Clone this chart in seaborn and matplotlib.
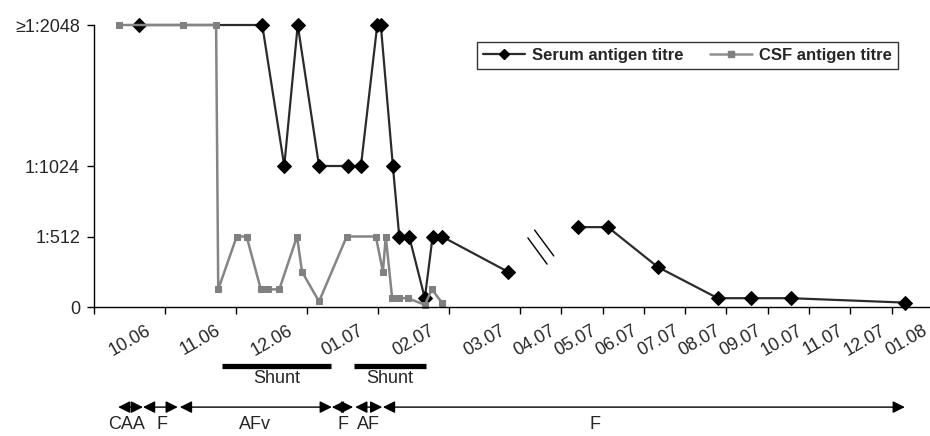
import numpy as np
import pandas as pd
import matplotlib
matplotlib.use('Agg')
import matplotlib.pyplot as plt
import seaborn as sns
from matplotlib.lines import Line2D

# months counted from the start of 10.06 (0 = beginning of Oct 2006)
month_labels = ['10.06', '11.06', '12.06', '01.07', '02.07', '03.07', '04.07', '05.07',
                '06.07', '07.07', '08.07', '09.07', '10.07', '11.07', '12.07', '01.08']

serum_month = [0.63, 2.37, 2.68, 2.87, 3.17, 3.58, 3.76, 3.99, 4.04, 4.21, 4.30, 4.44,
               4.66, 4.77, 4.90, 5.83, 7.40, 8.13, 9.34, 10.79, 11.59, 12.56, 15.32]
serum_titre = [2048, 2048, 1024, 2048, 1024, 1024, 1024, 2048, 2048, 1024, 512, 512,
               64, 512, 512, 256, 580, 580, 290, 64, 64, 64, 32]
serum_part = [1] * 16 + [2] * 7

csf_month = [0.35, 1.25, 1.72, 1.75, 2.01, 2.15, 2.35, 2.45, 2.61, 2.86, 2.93, 3.17,
             3.56, 3.97, 4.07, 4.11, 4.20, 4.30, 4.42, 4.66, 4.76, 4.90]
csf_titre = [2048, 2048, 2048, 128, 512, 512, 128, 128, 128, 512, 256, 40,
             512, 512, 256, 512, 64, 64, 64, 16, 128, 32]

ytick_vals = [0, 512, 1024, 2048]
ytick_labels = ['0', '1:512', '1:1024', '\u22651:2048']

shunt_start = [1.80, 3.66]
shunt_end = [3.34, 4.68]

phase_names = ['CAA', 'F', 'AFv', 'F', 'AF', 'F']
phase_start = [0.34, 0.69, 1.21, 3.35, 3.68, 4.07]
phase_end = [0.69, 1.18, 3.35, 3.65, 4.06, 15.32]
phase_label_at = [0.46, 0.96, 2.27, 3.51, 3.86, 7.82]

serum = pd.DataFrame({'month': serum_month, 'titre': serum_titre, 'part': serum_part})
csf = pd.DataFrame({'month': csf_month, 'titre': csf_titre})

sns.set_style('ticks')
plt.rcParams['font.family'] = ['Liberation Sans', 'DejaVu Sans']

fig = plt.figure(figsize=(9.3, 4.36), dpi=100)
ax = fig.add_axes([94 / 930, 129 / 436, 836 / 930, 282 / 436])

# axis is squeezed after the break (04.07 onwards)
k = 41.3 / 71


def fwd(m):
    m = np.asarray(m, dtype=float)
    return np.where(m <= 6, m, 6 + (m - 6) * k)


def inv(t):
    t = np.asarray(t, dtype=float)
    return np.where(t <= 6, t, 6 + (t - 6) / k)


ax.set_xscale('function', functions=(fwd, inv))

serum_style = dict(color='#2b2b2b', lw=1.6, marker='D', markersize=7,
                   markerfacecolor='black', markeredgecolor='black', clip_on=False)
csf_style = dict(color='#858585', lw=1.8, marker='s', markersize=4.5,
                 markerfacecolor='#808080', markeredgecolor='#808080', clip_on=False)

for part, d in serum.groupby('part'):
    sns.lineplot(data=d, x='month', y='titre', ax=ax, **serum_style)
sns.lineplot(data=csf, x='month', y='titre', ax=ax, **csf_style)

ax.set_xlim(0, 15.93)
ax.set_ylim(0, 2048)
ax.set_xlabel('')
ax.set_ylabel('')

# labels sit in the middle of each month, a bit to the left after the break
label_pos = [m + 0.5 if m < 6 else m + 0.35 for m in range(16)]
ax.set_xticks(np.arange(16))
ax.set_xticklabels([])
ax.set_xticks(label_pos, minor=True)
ax.set_xticklabels(month_labels, minor=True, rotation=30, fontsize=13)
ax.tick_params(axis='x', which='major', length=5, width=1, direction='out', color='black')
ax.tick_params(axis='x', which='minor', length=0, pad=11)

ax.set_yticks(ytick_vals)
ax.set_yticklabels(ytick_labels, fontsize=13)
ax.tick_params(axis='y', length=5, width=1, pad=5, direction='out', color='black')

sns.despine(ax=ax)
for s in ['left', 'bottom']:
    ax.spines[s].set_color('black')
    ax.spines[s].set_linewidth(1)

# break marks
ax.plot([0.519, 0.542], [0.245, 0.152], transform=ax.transAxes, color='black', lw=1)
ax.plot([0.527, 0.550], [0.273, 0.181], transform=ax.transAxes, color='black', lw=1)

# shunt periods
tr = ax.get_xaxis_transform()
for s, e in zip(shunt_start, shunt_end):
    ax.plot([s, e], [-0.209, -0.209], transform=tr, clip_on=False, lw=3.8,
            color='black', solid_capstyle='butt')
    ax.text((s + e) / 2, -0.255, 'Shunt', transform=tr, ha='center', va='center', fontsize=13)

# treatment phases
for name, s, e, lx in zip(phase_names, phase_start, phase_end, phase_label_at):
    ax.annotate('', xy=(e, -0.355), xytext=(s, -0.355), xycoords=tr, textcoords=tr,
                arrowprops=dict(arrowstyle='<|-|>,head_length=0.6,head_width=0.3',
                                mutation_scale=12, lw=1, color='black',
                                shrinkA=0, shrinkB=0),
                annotation_clip=False)
    ax.text(lx, -0.417, name, transform=tr, ha='center', va='center', fontsize=13)

handles = [Line2D([], [], color='#2b2b2b', lw=1.6, marker='D', markersize=5.5,
                  markerfacecolor='black', markeredgecolor='black'),
           Line2D([], [], color='#909090', lw=1.8, marker='s', markersize=4.5,
                  markerfacecolor='#808080', markeredgecolor='#808080')]
leg = fig.legend(handles, ['Serum antigen titre', 'CSF antigen titre'],
                 loc='upper left', bbox_to_anchor=(477 / 930, 1 - 42 / 436), ncol=2,
                 frameon=True, fancybox=False, edgecolor='black',
                 prop={'weight': 'bold', 'size': 12}, handlelength=2.5,
                 handletextpad=0.45, columnspacing=1.6, borderpad=0.35, borderaxespad=0)
leg.get_frame().set_linewidth(1.0)

fig.savefig('out.png', dpi=100)
